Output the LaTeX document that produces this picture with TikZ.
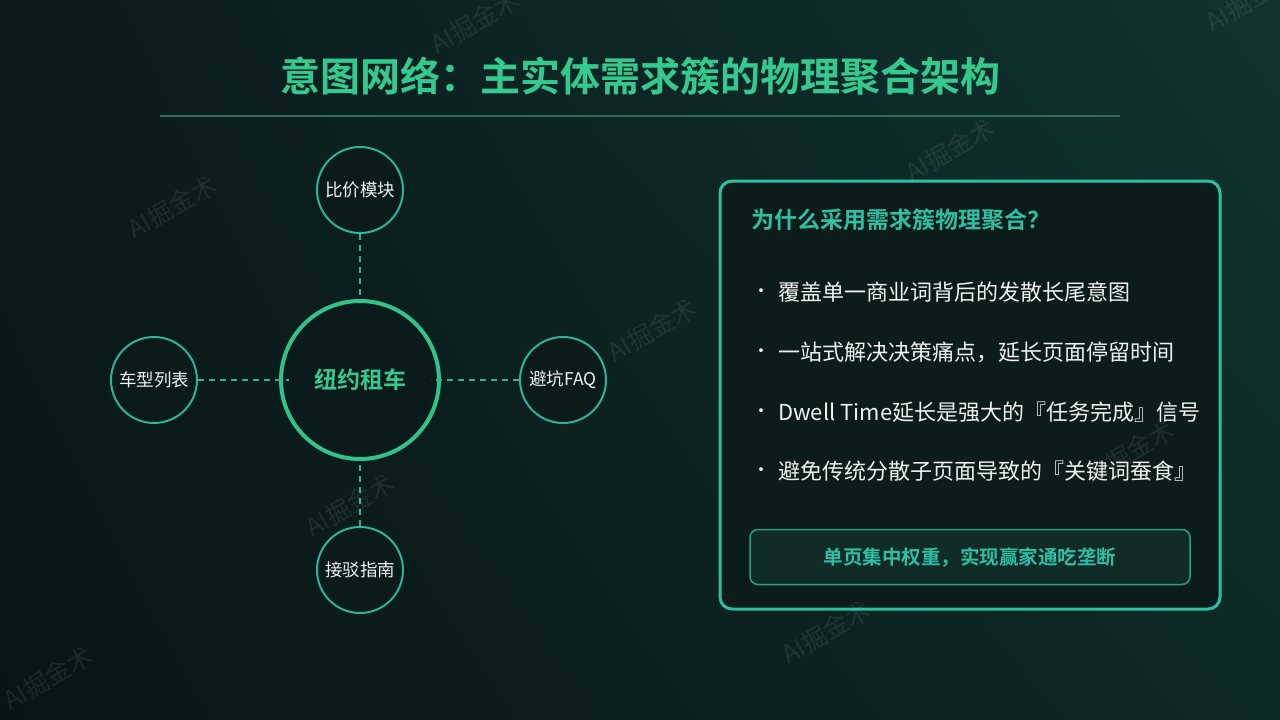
\documentclass[tikz,border=0pt]{standalone}
\usepackage{fontspec}
\setmainfont{Noto Sans CJK SC}[BoldFont={Noto Sans CJK SC Bold}]
\usetikzlibrary{shapes.geometric,shadings}
\definecolor{bgA}{HTML}{091416}
\definecolor{bgB}{HTML}{0B1A1B}
\definecolor{bgC}{HTML}{0F342F}
\definecolor{bgD}{HTML}{0D2926}
\definecolor{titlegreen}{HTML}{34C98E}
\definecolor{rulegreen}{HTML}{27705A}
\definecolor{hubgreen}{HTML}{30C48B}
\definecolor{teal}{HTML}{2AB59B}
\definecolor{boxteal}{HTML}{2EBFA2}
\definecolor{boxfill}{HTML}{0C1C1B}
\definecolor{innerfill}{HTML}{112C28}
\definecolor{innerline}{HTML}{2A9F86}
\definecolor{textwhite}{HTML}{EEF2F1}
\tikzset{
  leaf/.style={circle, draw=teal, line width=2pt, fill=bgB, minimum size=86pt, inner sep=0pt,
    text=textwhite, font=\fontsize{17.5}{20}\selectfont},
  hub/.style={circle, draw=hubgreen, line width=4pt, fill=bgB, minimum size=158pt, inner sep=0pt,
    text=titlegreen, font=\bfseries\fontsize{23}{26}\selectfont},
  link/.style={draw=teal, line width=2pt, dash pattern=on 6pt off 5pt},
  bullet/.style={anchor=west, text=textwhite, font=\fontsize{22}{24}\selectfont, inner sep=0pt},
  dot/.style={anchor=center, text=textwhite, font=\fontsize{18}{20}\selectfont, inner sep=0pt},
  wmark/.style={rotate=30, text=white, opacity=0.08, font=\fontsize{25}{28}\selectfont}
}
\begin{document}
\begin{tikzpicture}[x=1pt, y=-1pt]
\useasboundingbox (0,0) rectangle (1280,720);
\shade[lower left=bgA, upper left=bgB, upper right=bgC, lower right=bgD] (0,0) rectangle (1280,720);

% title
\node[text=titlegreen, font=\bfseries\fontsize{40}{44}\selectfont] (title) at (640,76) {意图网络：主实体需求簇的物理聚合架构};
\coordinate (ruleL) at (160,116);
\coordinate (ruleR) at (1120,116);
\draw[rulegreen, line width=2pt] (ruleL) -- (ruleR);

% network
\node[hub] (hub) at (360,380) {纽约租车};
\node[leaf] (top) at (360,190) {比价模块};
\node[leaf] (left) at (154,380) {车型列表};
\node[leaf] (right) at (563,380) {避坑FAQ};
\node[leaf] (bottom) at (360,570) {接驳指南};
\draw[link] (top.south) -- (hub.north);
\draw[link] (bottom.north) -- (hub.south);
\draw[link, shorten >=-10pt] (left.east) -- (hub.west);
\draw[link, shorten >=-10pt] (right.west) -- (hub.east);

% right panel
\node[draw=boxteal, line width=3pt, fill=boxfill, rounded corners=12pt,
  minimum width=500pt, minimum height=428pt, inner sep=0pt] (panel) at (970,395) {};
\node[anchor=west, text=boxteal, font=\bfseries\fontsize{23}{26}\selectfont, inner sep=0pt] (head) at (751,220) {为什么采用需求簇物理聚合？};

\node[dot] (d1) at (761,293) {·};
\node[bullet] (b1) at (778,292) {覆盖单一商业词背后的发散长尾意图};
\node[dot] (d2) at (761,353) {·};
\node[bullet] (b2) at (778,352) {一站式解决决策痛点，延长页面停留时间};
\node[dot] (d3) at (761,413) {·};
\node[bullet] (b3) at (778,412) {Dwell Time延长是强大的『任务完成』信号};
\node[dot] (d4) at (761,472) {·};
\node[bullet] (b4) at (778,471) {避免传统分散子页面导致的『关键词蚕食』};

\node[draw=innerline, line width=1.5pt, fill=innerfill, rounded corners=8pt,
  minimum width=440pt, minimum height=55pt, inner sep=0pt,
  text=boxteal, font=\bfseries\fontsize{19.5}{22}\selectfont] (summary) at (970,557) {单页集中权重，实现赢家通吃垄断};

% watermarks
\node[wmark] at (172,207) {AI掘金术};
\node[wmark] at (475,22) {AI掘金术};
\node[wmark] at (652,330) {AI掘金术};
\node[wmark] at (950,150) {AI掘金术};
\node[wmark] at (350,505) {AI掘金术};
\node[wmark] at (1250,0) {AI掘金术};
\node[wmark] at (1130,452) {AI掘金术};
\node[wmark] at (826,632) {AI掘金术};
\node[wmark] at (48,678) {AI掘金术};
\end{tikzpicture}
\end{document}
